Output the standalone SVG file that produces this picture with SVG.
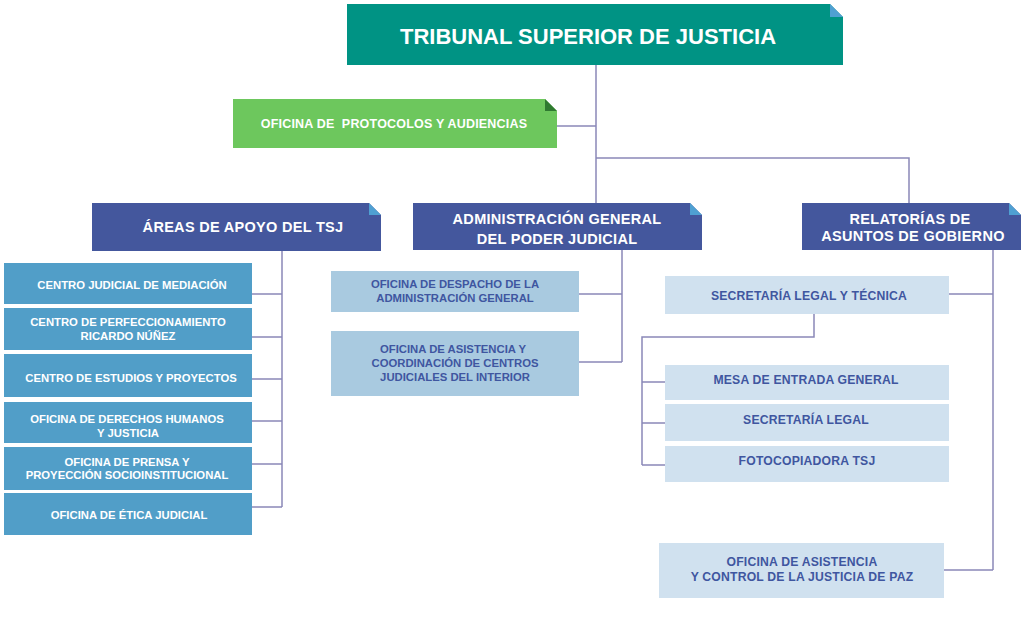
<svg xmlns="http://www.w3.org/2000/svg" width="1028" height="626" viewBox="0 0 1028 626">
<style>
text{font-family:"Liberation Sans",Arial,sans-serif;font-weight:bold;text-anchor:middle}
.w{fill:#ffffff}
.d{fill:#3f56a0}
.teal{fill:#009384}
.green{fill:#6dc75d}
.navy{fill:#44579d}
.mid{fill:#519ec8}
.lt{fill:#a9cae0}
.xl{fill:#d0e1ef}
.fold{fill:#4fa0d2}
.foldg{fill:#2f7a30}
.cut{fill:#ffffff}
.c{fill:none;stroke:#8a88b8;stroke-width:1.5}
.t1{font-size:22px}
.t2{font-size:14.5px;letter-spacing:0.3px}
.t3{font-size:11.3px}
.t5{font-size:12.2px;letter-spacing:0.2px}
.t4{font-size:12.5px;letter-spacing:0.2px;white-space:pre}
</style>
<rect width="1028" height="626" fill="#ffffff"/>
<g id="connectors">
<path class="c" d="M596 65V203M557 126H596M596 158H909V203"/>
<path class="c" d="M282 251V507M252 294H282M252 337H282M252 379H282M252 421H282M252 464H282M252 507H282"/>
<path class="c" d="M622 250V362M579 294H622M579 362H622"/>
<path class="c" d="M993 250V570M949 294H993M944 570H993"/>
<path class="c" d="M814 314V337H642V465M642 382H665M642 423H665M642 465H665"/>
</g>
<g id="tsj">
<rect class="teal" x="347" y="4" width="496" height="61"/>
<polygon class="cut" points="830,4 843,4 843,17"/>
<polygon class="fold" points="830,4 843,17 830,17"/>
<text class="w t1" x="588" y="44">TRIBUNAL SUPERIOR DE JUSTICIA</text>
</g>
<g id="protocolos">
<rect class="green" x="233" y="99" width="324" height="49"/>
<polygon class="cut" points="545,99 557,99 557,111"/>
<polygon class="foldg" points="545,99 557,111 545,111"/>
<text class="w t4" x="394" y="128" xml:space="preserve">OFICINA DE  PROTOCOLOS Y AUDIENCIAS</text>
</g>
<g id="areas">
<rect class="navy" x="92" y="203" width="289" height="48"/>
<polygon class="cut" points="369,203 381,203 381,215"/>
<polygon class="fold" points="369,203 381,215 369,215"/>
<text class="w t2" x="243" y="232">ÁREAS DE APOYO DEL TSJ</text>
</g>
<g id="admin">
<rect class="navy" x="413" y="203" width="289" height="47"/>
<polygon class="cut" points="690,203 702,203 702,215"/>
<polygon class="fold" points="690,203 702,215 690,215"/>
<text class="w t2" x="557" y="224">ADMINISTRACIÓN GENERAL</text>
<text class="w t2" x="557" y="244">DEL PODER JUDICIAL</text>
</g>
<g id="relatorias">
<rect class="navy" x="802" y="203" width="219" height="47"/>
<polygon class="cut" points="1009,203 1021,203 1021,215"/>
<polygon class="fold" points="1009,203 1021,215 1009,215"/>
<text class="w t2" x="910" y="224">RELATORÍAS DE</text>
<text class="w t2" x="913" y="241">ASUNTOS DE GOBIERNO</text>
</g>
<g id="mediacion">
<rect class="mid" x="4" y="263" width="248" height="41"/>
<text class="w t3" x="132" y="289">CENTRO JUDICIAL DE MEDIACIÓN</text>
</g>
<g id="perfeccionamiento">
<rect class="mid" x="4" y="308" width="248" height="42"/>
<text class="w t3" x="128" y="326">CENTRO DE PERFECCIONAMIENTO</text>
<text class="w t3" x="128" y="340">RICARDO NÚÑEZ</text>
</g>
<g id="estudios">
<rect class="mid" x="4" y="354" width="248" height="43"/>
<text class="w t3" x="131" y="382">CENTRO DE ESTUDIOS Y PROYECTOS</text>
</g>
<g id="ddhh">
<rect class="mid" x="4" y="402" width="248" height="41"/>
<text class="w t3" x="127" y="423">OFICINA DE DERECHOS HUMANOS</text>
<text class="w t3" x="128" y="437">Y JUSTICIA</text>
</g>
<g id="prensa">
<rect class="mid" x="4" y="447" width="248" height="43"/>
<text class="w t3" x="127" y="466">OFICINA DE PRENSA Y</text>
<text class="w t3" x="127" y="479">PROYECCIÓN SOCIOINSTITUCIONAL</text>
</g>
<g id="etica">
<rect class="mid" x="4" y="493" width="248" height="42"/>
<text class="w t3" x="129" y="519">OFICINA DE ÉTICA JUDICIAL</text>
</g>
<g id="despacho">
<rect class="lt" x="331" y="271" width="248" height="41"/>
<text class="d t3" x="455" y="288">OFICINA DE DESPACHO DE LA</text>
<text class="d t3" x="455" y="302">ADMINISTRACIÓN GENERAL</text>
</g>
<g id="asistencia-centros">
<rect class="lt" x="331" y="331" width="248" height="65"/>
<text class="d t3" x="453" y="353">OFICINA DE ASISTENCIA Y</text>
<text class="d t3" x="455" y="367">COORDINACIÓN DE CENTROS</text>
<text class="d t3" x="455" y="381">JUDICIALES DEL INTERIOR</text>
</g>
<g id="secretaria-legal-tecnica">
<rect class="xl" x="665" y="276" width="284" height="38"/>
<text class="d t5" x="809" y="300">SECRETARÍA LEGAL Y TÉCNICA</text>
</g>
<g id="mesa">
<rect class="xl" x="665" y="365" width="284" height="35"/>
<text class="d t5" x="806" y="384">MESA DE ENTRADA GENERAL</text>
</g>
<g id="secretaria-legal">
<rect class="xl" x="665" y="404" width="284" height="37"/>
<text class="d t5" x="806" y="424">SECRETARÍA LEGAL</text>
</g>
<g id="fotocopiadora">
<rect class="xl" x="665" y="446" width="284" height="36"/>
<text class="d t5" x="807" y="465">FOTOCOPIADORA TSJ</text>
</g>
<g id="justicia-paz">
<rect class="xl" x="659" y="543" width="285" height="55"/>
<text class="d t5" x="802" y="566">OFICINA DE ASISTENCIA</text>
<text class="d t5" x="802" y="581">Y CONTROL DE LA JUSTICIA DE PAZ</text>
</g>
</svg>
